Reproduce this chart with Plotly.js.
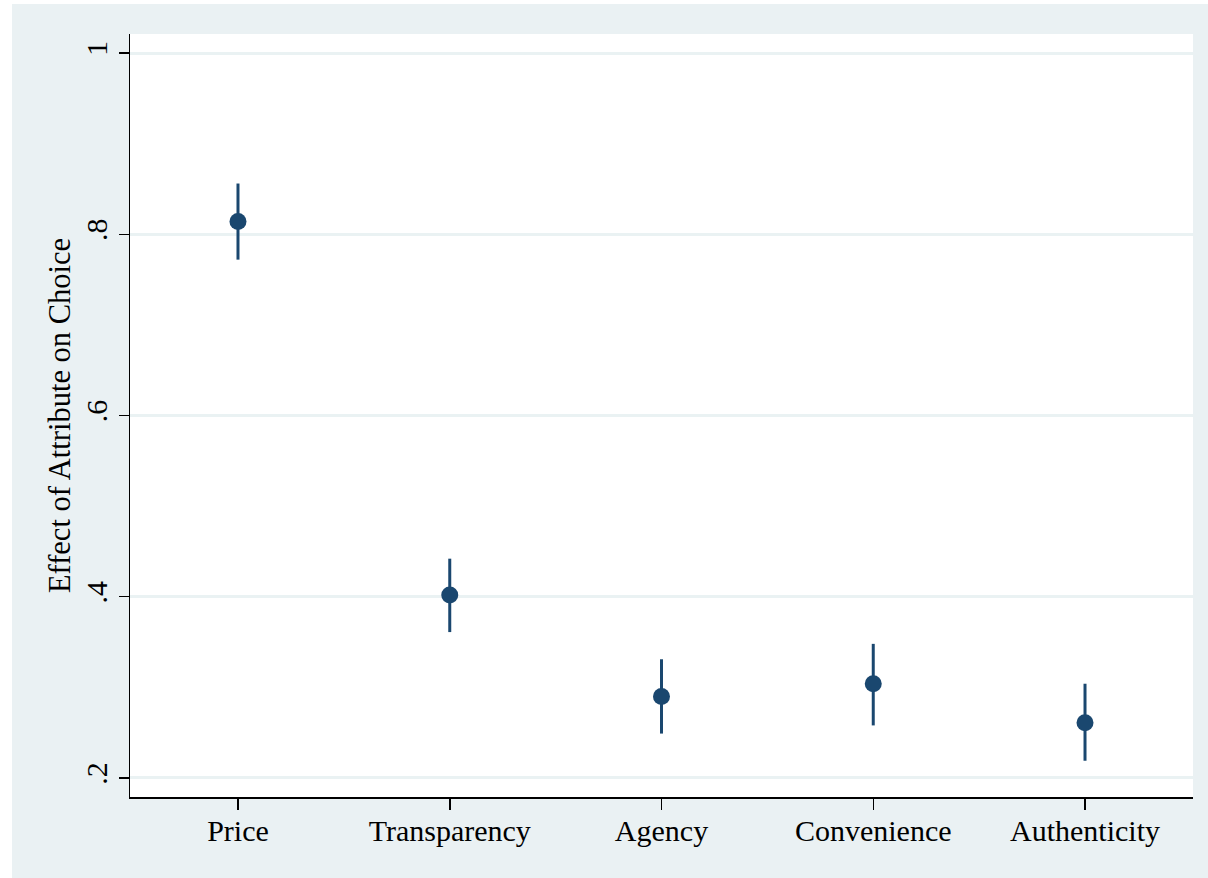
<!DOCTYPE html>
<html>
<head>
<meta charset="utf-8">
<script src="https://cdn.plot.ly/plotly-3.0.1.min.js"></script>
<style>
  html, body { margin: 0; padding: 0; background: #ffffff; width: 1208px; height: 878px; overflow: hidden; }
  #chart { position: absolute; left: 12px; top: 4px; width: 1196px; height: 874px; }
</style>
</head>
<body>
<div id="chart"></div>
<script>
const categories = ["Price", "Transparency", "Agency", "Convenience", "Authenticity"];
const estimates  = [0.814, 0.402, 0.290, 0.304, 0.261];
const ciLow      = [0.772, 0.361, 0.249, 0.258, 0.219];
const ciHigh     = [0.856, 0.442, 0.331, 0.348, 0.304];
const yTickVals  = [0.2, 0.4, 0.6, 0.8, 1];
const yTickText  = [".2", ".4", ".6", ".8", "1"];

const navy = "#1a476f";
const serif = "'Liberation Serif', 'Times New Roman', serif";

const trace = {
  type: "scatter",
  mode: "markers",
  x: categories.map((c, i) => i),
  y: estimates,
  marker: { color: navy, size: 17 },
  error_y: {
    type: "data",
    symmetric: false,
    array: ciHigh.map((h, i) => h - estimates[i]),
    arrayminus: ciLow.map((l, i) => estimates[i] - l),
    color: navy,
    thickness: 3,
    width: 0
  },
  hoverinfo: "x+y"
};

const layout = {
  width: 1196,
  height: 874,
  paper_bgcolor: "#eaf1f3",
  plot_bgcolor: "#ffffff",
  margin: { l: 118, r: 15, t: 30, b: 81 },
  showlegend: false,
  font: { family: serif, size: 30, color: "#000000" },
  xaxis: {
    range: [-0.51, 4.51],
    tickmode: "array",
    tickvals: categories.map((c, i) => i),
    ticktext: categories,
    showgrid: false,
    zeroline: false,
    showline: true,
    linecolor: "#000000",
    linewidth: 1.5,
    ticks: "outside",
    ticklen: 11,
    tickwidth: 1.5,
    tickcolor: "#000000",
    ticklabelstandoff: -5,
    tickfont: { family: serif, size: 30, color: "#000000" },
    fixedrange: true
  },
  yaxis: {
    range: [0.179, 1.021],
    tickmode: "array",
    tickvals: yTickVals,
    ticktext: yTickText,
    tickangle: -90,
    showgrid: true,
    gridcolor: "#eaf2f3",
    gridwidth: 3,
    zeroline: false,
    showline: true,
    linecolor: "#000000",
    linewidth: 1.5,
    ticks: "outside",
    ticklen: 10,
    tickwidth: 1.5,
    tickcolor: "#000000",
    tickfont: { family: serif, size: 30, color: "#000000" },
    title: { text: "Effect of Attribute on Choice", font: { family: serif, size: 30.5, color: "#000000" }, standoff: 0 },
    automargin: false,
    fixedrange: true
  }
};

Plotly.newPlot("chart", [trace], layout, { displayModeBar: false, staticPlot: true });
</script>
</body>
</html>
